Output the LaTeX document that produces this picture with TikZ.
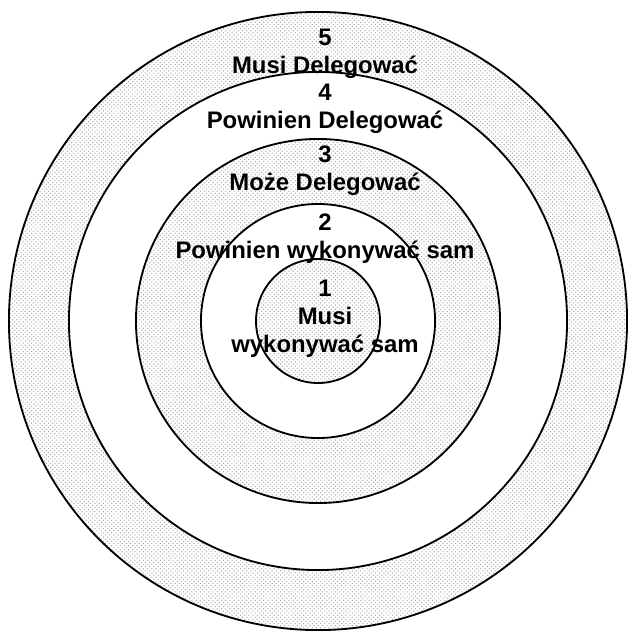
\documentclass[tikz,border=0pt]{standalone}
\usepackage{fontspec}
\setmainfont{Liberation Sans}
\usetikzlibrary{patterns}

\begin{document}
\begin{tikzpicture}[
  x=0.025cm, y=-0.025cm,
  ringLine/.style  ={circle, draw=black, line width=1.3pt, inner sep=0pt},
  dotRing/.style   ={ringLine, pattern=crosshatch dots, pattern color=gray!70},
  plainRing/.style ={ringLine, fill=white},
  levelLabel/.style={align=center, inner sep=0pt, font=\bfseries\fontsize{17}{20}\selectfont}
]
\useasboundingbox (0,0) rectangle (628,632);

% common centre of all rings
\coordinate (C) at (318,321);

% ================== RINGS (outside in) ==================
\node[dotRing,   minimum size=15.45cm] (ring5) at (C) {};
\node[plainRing, minimum size=12.45cm] (ring4) at (C) {};
\node[dotRing,   minimum size=9.10cm]  (ring3) at (C) {};
\node[plainRing, minimum size=5.85cm]  (ring2) at (C) {};
\node[dotRing,   minimum size=3.10cm]  (ring1) at (C) {};

% ================== LABELS ==================
\node[levelLabel] (lab5) at (325,54)    {5\\Musi Delegować};
\node[levelLabel] (lab4) at (325,109)   {4\\Powinien Delegować};
\node[levelLabel] (lab3) at (325,171)   {3\\Może Delegować};
\node[levelLabel] (lab2) at (325,239)   {2\\Powinien wykonywać sam};
\node[levelLabel] (lab1) at (325,319)   {1\\Musi\\wykonywać sam};

\end{tikzpicture}
\end{document}
